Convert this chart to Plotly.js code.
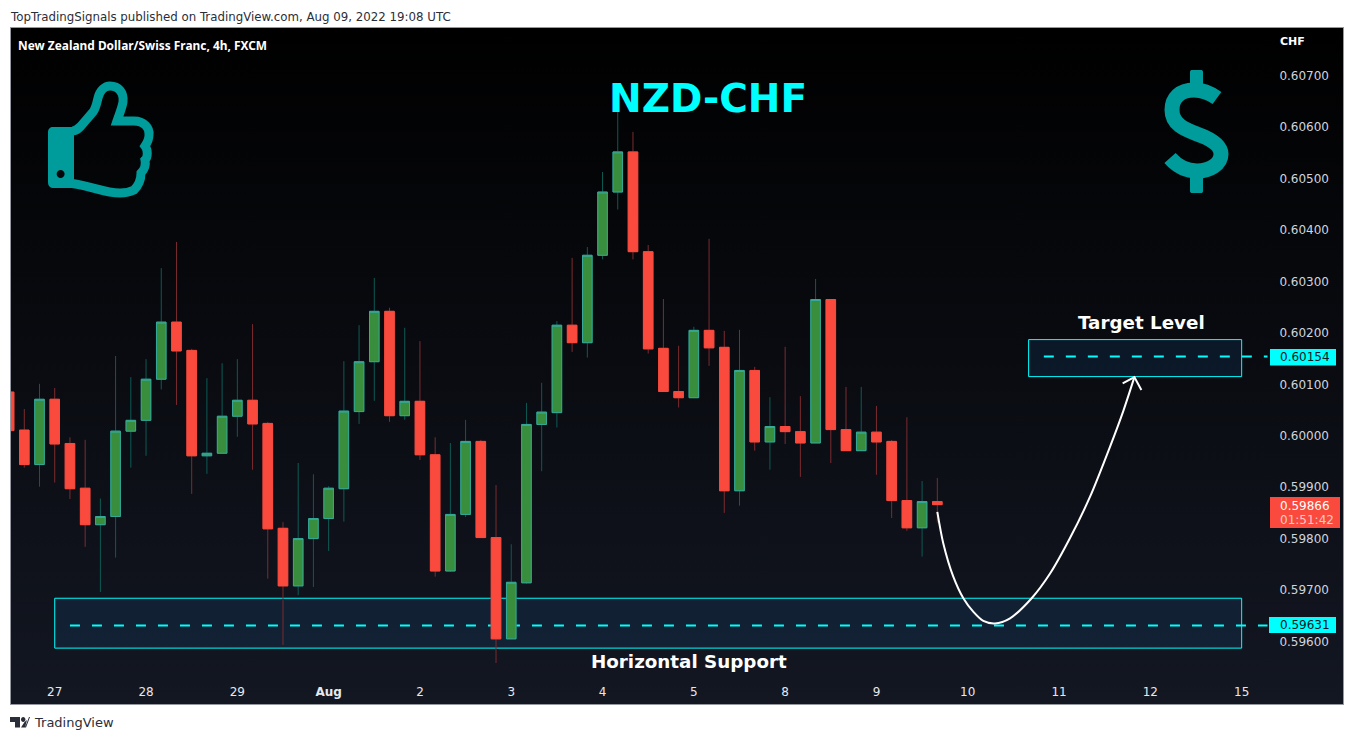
<!DOCTYPE html>
<html>
<head>
<meta charset="utf-8">
<script src="https://cdn.plot.ly/plotly-3.0.1.min.js"></script>
<style>
  html, body { margin: 0; padding: 0; background: #fff; }
  #panel {
    position: absolute; left: 10px; top: 27px; width: 1332px; height: 676px;
    border: 1px solid #9598a1;
    background: linear-gradient(to bottom, #000000 0%, #131722 100%);
  }
  #chart { position: absolute; left: 0; top: 0; width: 1354px; height: 740px; }
</style>
</head>
<body>
<div id="panel"></div>
<div id="chart"></div>
<script>
// 4h bars, -1 is the one clipped by the left edge
const barIndex = [];
for (let i = -1; i <= 60; i++) barIndex.push(i);

const openPrices = [
  0.60085, 0.60011, 0.59944, 0.60071, 0.59985, 0.59898, 0.59827, 0.59843, 0.60009, 0.60030,
  0.60110, 0.60221, 0.60166, 0.59961, 0.59966, 0.60038, 0.60069, 0.60024, 0.59820, 0.59708,
  0.59800, 0.59839, 0.59897, 0.60047, 0.60144, 0.60242, 0.60039, 0.60067, 0.59963, 0.59737,
  0.59847, 0.59989, 0.59802, 0.59605, 0.59714, 0.60022, 0.60045, 0.60215, 0.60181, 0.60351,
  0.60474, 0.60552, 0.60358, 0.60170, 0.60086, 0.60074, 0.60205, 0.60172, 0.59893, 0.60127,
  0.59988, 0.60018, 0.60008, 0.59986, 0.60265, 0.60012, 0.59971, 0.60007, 0.59989, 0.59874,
  0.59821, 0.59872
];
const highPrices = [
  0.60085, 0.60052, 0.60101, 0.60093, 0.59997, 0.59992, 0.59878, 0.60155, 0.60114, 0.60149,
  0.60326, 0.60377, 0.60169, 0.60112, 0.60141, 0.60149, 0.60217, 0.60027, 0.59832, 0.59947,
  0.59925, 0.59902, 0.60145, 0.60215, 0.60307, 0.60249, 0.60210, 0.60184, 0.59997, 0.59986,
  0.60031, 0.59992, 0.59904, 0.59789, 0.60064, 0.60103, 0.60223, 0.60346, 0.60367, 0.60513,
  0.60644, 0.60591, 0.60371, 0.60266, 0.60175, 0.60212, 0.60383, 0.60204, 0.60206, 0.60134,
  0.60075, 0.60173, 0.60077, 0.60305, 0.60265, 0.60095, 0.60095, 0.60058, 0.59992, 0.60036,
  0.59912, 0.59918
];
const lowPrices = [
  0.60010, 0.59938, 0.59901, 0.59909, 0.59877, 0.59784, 0.59696, 0.59763, 0.59938, 0.59961,
  0.60090, 0.60060, 0.59887, 0.59926, 0.59966, 0.59998, 0.59934, 0.59722, 0.59593, 0.59690,
  0.59706, 0.59776, 0.59833, 0.60023, 0.60068, 0.60027, 0.60031, 0.59953, 0.59726, 0.59735,
  0.59842, 0.59802, 0.59558, 0.59605, 0.59712, 0.59931, 0.60016, 0.60163, 0.60152, 0.60343,
  0.60440, 0.60343, 0.60160, 0.60086, 0.60055, 0.60074, 0.60136, 0.59850, 0.59864, 0.59971,
  0.59934, 0.59984, 0.59920, 0.59986, 0.59947, 0.59971, 0.59971, 0.59924, 0.59840, 0.59815,
  0.59765, 0.59831
];
const closePrices = [
  0.60010, 0.59944, 0.60071, 0.59984, 0.59897, 0.59827, 0.59843, 0.60009, 0.60030, 0.60110,
  0.60221, 0.60165, 0.59961, 0.59966, 0.60038, 0.60069, 0.60023, 0.59819, 0.59708, 0.59800,
  0.59839, 0.59898, 0.60048, 0.60144, 0.60242, 0.60039, 0.60067, 0.59963, 0.59737, 0.59847,
  0.59989, 0.59802, 0.59605, 0.59715, 0.60022, 0.60046, 0.60215, 0.60181, 0.60351, 0.60474,
  0.60552, 0.60358, 0.60169, 0.60086, 0.60074, 0.60205, 0.60171, 0.59893, 0.60127, 0.59988,
  0.60018, 0.60008, 0.59986, 0.60265, 0.60012, 0.59971, 0.60007, 0.59988, 0.59874, 0.59821,
  0.59872, 0.59866
];

const dayTickBars = [2, 8, 14, 20, 26, 32, 38, 44, 50, 56, 62, 68, 74, 80];
const dayTickLabels = ["27", "28", "29", "<b>Aug</b>", "2", "3", "4", "5", "8", "9", "10", "11", "12", "15"];
const priceTicks = [0.596, 0.597, 0.598, 0.599, 0.600, 0.601, 0.602, 0.603, 0.604, 0.605, 0.606, 0.607];

// hand drawn projection as (bar, price)
const curveBars = [60.0, 60.39, 61.05, 61.71, 62.36, 63.02, 63.79, 64.78, 66.2, 67.41, 68.72, 70.03, 71.34, 72.22, 72.95];
const curvePrices = [0.59852, 0.59791, 0.59726, 0.59684, 0.59658, 0.59640, 0.59635, 0.59645, 0.59684, 0.59732, 0.59801, 0.59881, 0.59978, 0.60048, 0.60114];
const arrowHeadBars = [72.18, 72.95, 73.41];
const arrowHeadPrices = [0.60102, 0.60114, 0.60089];

const supportLevel = 0.59631;
const targetLevel = 0.60154;
const supportZone = [0.59587, 0.59684];
const targetZone = [0.60115, 0.60187];

const FONT = '"DejaVu Sans", sans-serif';
const CYAN = "#00ffff";
const TEAL = "#009b9b";

const W = 1332, H = 652, LEFT = 11, TOP = 28;
const pxX = x => (x - LEFT) / W;
const pxY = y => 1 - (y - TOP) / H;

// page pixels -> path relative to the plot's top left corner (y up in pixel mode)
function pagePath(d) {
  return d.replace(/(-?[\d.]+) (-?[\d.]+)/g, (m, x, y) => (parseFloat(x) - LEFT) + " " + (TOP - parseFloat(y)));
}
function iconShape(d, lineWidth, fill, color) {
  return {
    type: "path", layer: "above", path: pagePath(d),
    xref: "paper", yref: "paper", xsizemode: "pixel", ysizemode: "pixel", xanchor: 0, yanchor: 1,
    fillcolor: fill, line: { color: color, width: lineWidth }
  };
}

// wicks are dimmer than the body outline, so bodies go in a second trace without wicks
const wicks = {
  type: "candlestick", x: barIndex, open: openPrices, high: highPrices, low: lowPrices, close: closePrices,
  whiskerwidth: 0, hoverinfo: "skip",
  increasing: { line: { color: "#0e5a54", width: 1 }, fillcolor: "#388e3c" },
  decreasing: { line: { color: "#7b2c2f", width: 1 }, fillcolor: "#f94a3d" }
};
const bodies = {
  type: "candlestick", x: barIndex, open: openPrices, close: closePrices,
  high: openPrices.map((o, i) => Math.max(o, closePrices[i])),
  low: openPrices.map((o, i) => Math.min(o, closePrices[i])),
  whiskerwidth: 0,
  increasing: { line: { color: "#36a99a", width: 1 }, fillcolor: "#388e3c" },
  decreasing: { line: { color: "#f94a3d", width: 1 }, fillcolor: "#f94a3d" }
};
const curve = {
  type: "scatter", mode: "lines", x: curveBars, y: curvePrices, hoverinfo: "skip",
  line: { color: "#ffffff", width: 2, shape: "spline", smoothing: 0.8 }
};
const arrowHead = {
  type: "scatter", mode: "lines", x: arrowHeadBars, y: arrowHeadPrices, hoverinfo: "skip",
  line: { color: "#ffffff", width: 2 }
};

function zoneBox(x0, x1, zone) {
  return {
    type: "rect", layer: "below", xref: "x", yref: "y", x0: x0, x1: x1, y0: zone[0], y1: zone[1],
    fillcolor: "rgba(33,150,243,0.1)", line: { color: CYAN, width: 1 }
  };
}
function levelLine(x0, level) {
  return {
    type: "line", layer: "below", xref: "x", yref: "y", x0: x0, x1: 81.7, y0: level, y1: level,
    line: { color: CYAN, width: 2, dash: "10px,12px" }
  };
}
function badge(x0, x1, y0, y1, color) {
  return {
    type: "rect", layer: "above", xref: "paper", yref: "paper",
    x0: pxX(x0), x1: pxX(x1), y0: pxY(y1), y1: pxY(y0), fillcolor: color, line: { width: 0 }
  };
}
function pageText(text, x, y, size, color, anchor, bold, family) {
  return {
    text: bold ? "<b>" + text + "</b>" : text, xref: "paper", yref: "paper", x: pxX(x), y: pxY(y),
    xanchor: anchor, yanchor: "middle", showarrow: false, font: { family: family || FONT, size: size, color: color }
  };
}

const layout = {
  width: 1354, height: 740,
  margin: { l: LEFT, r: 11, t: TOP, b: 60 },
  paper_bgcolor: "rgba(0,0,0,0)", plot_bgcolor: "rgba(0,0,0,0)",
  showlegend: false, dragmode: false, boxmode: "overlay", boxgap: 0.1,
  font: { family: FONT, size: 12, color: "#d1d4dc" },
  xaxis: {
    type: "linear", range: [-0.874, 86.66], showgrid: false, zeroline: false, showline: false,
    tickmode: "array", tickvals: dayTickBars, ticktext: dayTickLabels, ticks: "", ticklabelstandoff: 3,
    tickfont: { family: FONT, size: 12, color: "#e6e8ee" }, rangeslider: { visible: false }
  },
  yaxis: {
    range: [0.59525, 0.60793], side: "right", showgrid: false, zeroline: false, showline: false,
    tickmode: "array", tickvals: priceTicks, tickformat: ".5f", ticks: "",
    ticklabelposition: "inside", ticklabelstandoff: 11,
    tickfont: { family: FONT, size: 12, color: "#d1d4dc" }
  },
  shapes: [
    zoneBox(2, 80, supportZone),
    levelLine(3, supportLevel),
    zoneBox(66, 80, targetZone),
    levelLine(67, targetLevel),
    badge(1270, 1336, 349, 365.5, CYAN),
    badge(1269, 1336, 617, 633, CYAN),
    badge(1270, 1340, 497, 528, "#f94a3d"),
    // thumbs up
    iconShape("M53 127 L74 127 L74 188 L54 188 C50 188 48 186 48 182 L48 132 C48 129 50 127 53 127 Z", 0, TEAL, TEAL),
    iconShape("M72 131 C76 131 78 129 81 126 L93 112 C96 108 97 102 98 98 C100 90 105 86 110 86 C119 86 124 93 123 102 C122 108 119 115 117 121 L134 121 C144 121 150 128 149 135 C149 139 147 143 145 146 C148 150 148 157 145 160 C146 165 144 170 141 173 C141 180 138 186 134 190 C130 192 125 193 120 193 C104 193 92 186 72 183.5", 9, "rgba(0,0,0,0)", TEAL),
    iconShape("M56.6 174 C56.6 171.7 58.4 170 60.6 170 C62.8 170 64.6 171.7 64.6 174 C64.6 176.2 62.8 178 60.6 178 C58.4 178 56.6 176.2 56.6 174 Z", 0, "#05070a", "#05070a"),
    // dollar sign
    iconShape("M1217 98 C1210 93 1203 90 1194 90 C1180 90 1172 98 1172 110 C1172 124 1184 129 1197 134 C1211 139 1221 145 1221 154 C1221 164 1210 171 1197 171 C1186 171 1178 167 1170 158", 15, "rgba(0,0,0,0)", TEAL),
    iconShape("M1190 72 C1190 70.5 1191 70 1192 70 L1201 70 C1202 70 1203 70.5 1203 72 L1203 90 L1190 90 Z", 0, TEAL, TEAL),
    iconShape("M1190 170 L1203 170 L1203 191 C1203 192.5 1202 193 1201 193 L1192 193 C1191 193 1190 192.5 1190 191 Z", 0, TEAL, TEAL),
    // TradingView logo
    iconShape("M10 717 L20 717 L20 727.5 L15 727.5 L15 722 L10 722 Z", 0, "#2a2e39", "#2a2e39"),
    iconShape("M21 719.5 C21 718 22 717 23.2 717 C24.4 717 25.4 718 25.4 719.5 C25.4 721 24.4 722 23.2 722 C22 722 21 721 21 719.5 Z", 0, "#2a2e39", "#2a2e39"),
    iconShape("M25 727.5 L29 717 L30 717 L26 727.5 L21 727.5 L24.5 722 L27 720 Z", 0, "#2a2e39", "#2a2e39")
  ],
  annotations: [
    pageText("TopTradingSignals published on TradingView.com, Aug 09, 2022 19:08 UTC", 8, 17, 11.8, "#2a2e39", "left"),
    pageText("New Zealand Dollar/Swiss Franc, 4h, FXCM", 16, 45, 11.9, "#ffffff", "left", true, '"Noto Sans", sans-serif'),
    pageText("CHF", 1278, 41, 11, "#ffffff", "left", true),
    pageText("NZD-CHF", 708, 98, 39, CYAN, "center", true),
    pageText("Target Level", 1141, 323, 18.3, "#ffffff", "center", true),
    pageText("Horizontal Support", 689, 661, 18.3, "#ffffff", "center", true),
    pageText("0.60154", 1278, 357, 12, "#131722", "left"),
    pageText("0.59631", 1278, 625, 12, "#131722", "left"),
    pageText("0.59866", 1278, 506, 12, "#ffffff", "left"),
    pageText("01:51:42", 1278, 519.5, 12, "#ffc9c4", "left"),
    pageText("TradingView", 32, 722, 13, "#2a2e39", "left")
  ]
};

Plotly.newPlot("chart", [wicks, bodies, curve, arrowHead], layout, { displayModeBar: false, staticPlot: true });
</script>
</body>
</html>
